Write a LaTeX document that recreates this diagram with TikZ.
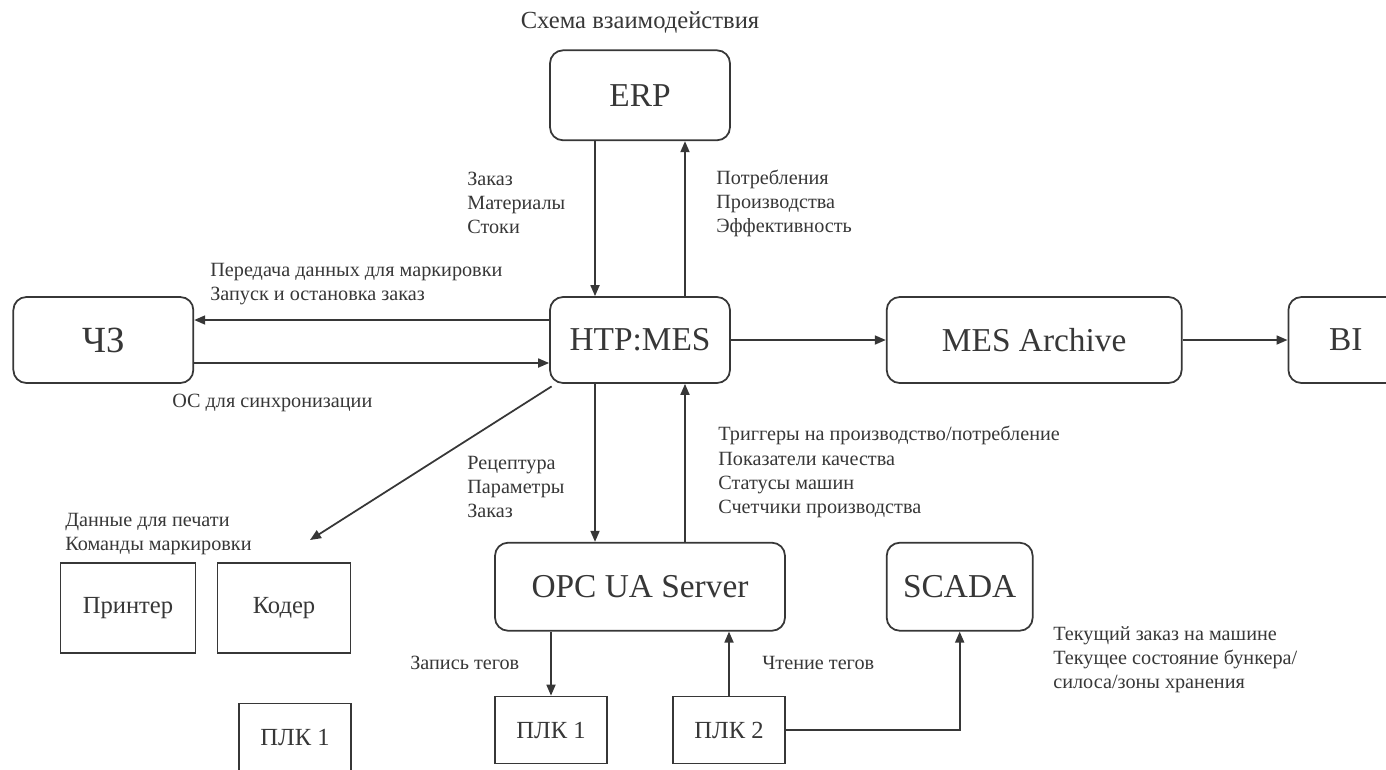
\documentclass[tikz,border=0pt]{standalone}
\usepackage{fontspec}
\setmainfont{Liberation Serif}
\usetikzlibrary{positioning}
\usetikzlibrary{arrows.meta}
\definecolor{ink}{RGB}{55,55,55}
\tikzset{%
  flow/.style = {-{Triangle[length=2.2mm,width=1.8mm]},draw=ink,line width=1pt},
  sys/.style = {rectangle,rounded corners=2.6mm,draw=ink,line width=1pt,text=ink,
        font=\fontsize{19}{22}\selectfont,inner sep=0pt},
  dev/.style = {rectangle,draw=ink,line width=1pt,text=ink,
        font=\fontsize{14}{17}\selectfont,inner sep=0pt},
  note/.style = {anchor=west,align=left,inner sep=0pt,text=ink,
        font=\fontsize{11.5}{13.7}\selectfont}
}

\begin{document}
\begin{tikzpicture}[x=0.02cm,y=-0.02cm]
   \useasboundingbox (0,0) rectangle (1386,769);
   \node[text=ink,font=\fontsize{14}{16}\selectfont] (title) at (640,22) {Схема взаимодействия};

   \node[sys,minimum width=3.6cm,minimum height=1.72cm] (mes) at (640,340) {HTP:MES};
   \node[sys,minimum width=3.6cm,minimum height=1.8cm] (erp) [above=3.1cm of mes] {ERP};
   \node[sys,minimum width=3.6cm,minimum height=1.72cm,font=\fontsize{21}{24}\selectfont] (chz) [left=7.1cm of mes] {ЧЗ};
   \node[sys,minimum width=5.9cm,minimum height=1.72cm] (archive) [right=3.1cm of mes] {MES Archive};
   \node[sys,minimum width=2.3cm,minimum height=1.72cm] (bi) [right=2.1cm of archive] {BI};
   \node[sys,minimum width=5.8cm,minimum height=1.76cm] (opc) [below=3.16cm of mes] {OPC UA Server};
   \node[sys,minimum width=2.92cm,minimum height=1.76cm] (scada) [right=2cm of opc] {SCADA};

   \node[dev,minimum width=2.24cm,minimum height=1.34cm] (plc1) at (551,730) {ПЛК 1};
   \node[dev,minimum width=2.24cm,minimum height=1.34cm] (plc2) at (729,730) {ПЛК 2};
   \node[dev,minimum width=2.7cm,minimum height=1.8cm] (printer) at (128,608) {Принтер};
   \node[dev,minimum width=2.66cm,minimum height=1.8cm] (coder) at (284,608) {Кодер};
   \node[dev,minimum width=2.24cm,minimum height=1.34cm] (plc-left) at (295,737) {ПЛК 1};

   \node[note] (erp-in) at (467,203) {Заказ\\Материалы\\Стоки};
   \node[note] (erp-out) at (716,203) {Потребления\\Производства\\Эффективность};
   \node[note] (chz-in) at (210,284) {Передача данных для маркировки\\Запуск и остановка заказ};
   \node[note] (chz-out) at (172,403) {ОС для синхронизации};
   \node[note] (opc-in) at (467,487) {Рецептура\\Параметры\\Заказ};
   \node[note] (opc-out) at (718,472) {Триггеры на производство/потребление\\Показатели качества\\Статусы машин\\Счетчики производства};
   \node[note] (coder-note) at (65,534) {Данные для печати\\Команды маркировки};
   \node[note] (write-tags) at (410,663) {Запись тегов};
   \node[note] (read-tags) at (762,663) {Чтение тегов};
   \node[note] (scada-note) at (1053,660) {Текущий заказ на машине\\Текущее состояние бункера/\\силоса/зоны хранения};

   \coordinate (coder-in) at (310,540);

   \draw[flow] ([xshift=-0.9cm]erp.south) -- ([xshift=-0.9cm]mes.north);
   \draw[flow] ([xshift=0.9cm]mes.north) -- ([xshift=0.9cm]erp.south);
   \draw[flow] ([yshift=0.4cm]mes.west) -- ([yshift=0.4cm]chz.east);
   \draw[flow] ([yshift=-0.46cm]chz.east) -- ([yshift=-0.46cm]mes.west);
   \draw[flow] (mes) -- (archive);
   \draw[flow] (archive) -- (bi);
   \draw[flow] ([xshift=-0.9cm]mes.south) -- ([xshift=-0.9cm]opc.north);
   \draw[flow] ([xshift=0.9cm]opc.north) -- ([xshift=0.9cm]mes.south);
   \draw[flow] ([shift={(0.05cm,-0.05cm)}]mes.south west) -- (coder-in);
   \draw[flow] (opc.south -| plc1.north) -- (plc1.north);
   \draw[flow] (plc2.north) -- (plc2.north |- opc.south);
   \draw[flow] (plc2.east) -| (scada.south);
\end{tikzpicture}
\end{document}
